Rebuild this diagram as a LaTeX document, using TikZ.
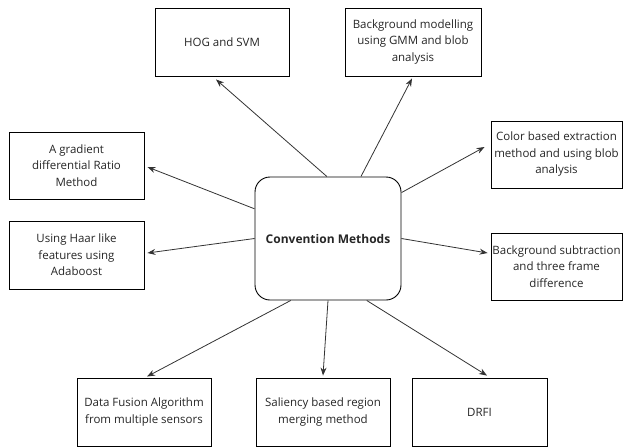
\documentclass[tikz,border=0pt]{standalone}
\usepackage{fontspec}
\setmainfont{Open Sans}
\usetikzlibrary{arrows.meta}
\begin{document}
\begin{tikzpicture}[x=1pt,y=-1pt,
  box/.style={draw=black, line width=0.9pt, align=center, inner sep=0pt,
    text=black!85, font=\fontsize{11.5}{16.5}\selectfont},
  hub/.style={box, rounded corners=15pt, font=\fontsize{12}{15}\selectfont\bfseries},
  arr/.style={-{Stealth[length=8pt,width=6pt]}, line width=0.8pt, draw=black!80}]
\useasboundingbox (0,0) rectangle (623,447);
\node[hub, minimum width=146pt, minimum height=123pt] (c) at (328,238.5) {Convention Methods};
\node[box, minimum width=134pt, minimum height=68pt] (hog) at (222,42) {HOG and SVM};
\node[box, minimum width=136pt, minimum height=68pt] (bgm) at (413,42) {Background modelling\\using GMM and blob\\analysis};
\node[box, minimum width=135pt, minimum height=67pt] (grad) at (76.5,165.5) {A gradient\\differential Ratio\\Method};
\node[box, minimum width=135pt, minimum height=68pt] (haar) at (76.5,255) {Using Haar like\\features using\\Adaboost};
\node[box, minimum width=131pt, minimum height=67pt] (color) at (556.5,154.5) {Color based extraction\\method and using blob\\analysis};
\node[box, minimum width=131pt, minimum height=67pt] (bgs) at (556.5,266.5) {Background subtraction\\and three frame\\difference};
\node[box, minimum width=134pt, minimum height=68pt] (df) at (144,412) {Data Fusion Algorithm\\from multiple sensors};
\node[box, minimum width=134pt, minimum height=68pt] (sal) at (323,412) {Saliency based region\\merging method};
\node[box, minimum width=135pt, minimum height=68pt] (drfi) at (479.5,412) {DRFI};
\draw[arr] (c.91) -- ([xshift=-6pt,yshift=-3pt]hog.south);
\draw[arr] (c.62) -- ([xshift=-1pt,yshift=-2pt]bgm.south);
\draw[arr] (c.32.5) -- ([xshift=-6pt,yshift=7.5pt]color.west);
\draw[arr] (c.158.7) -- ([xshift=3pt,yshift=-1.5pt]grad.east);
\draw[arr] (c.180.4) -- ([xshift=3pt,yshift=2pt]haar.east);
\draw[arr] (c.0) -- ([xshift=-3pt,yshift=13.5pt]bgs.west);
\draw[arr] (c.239.7) -- ([xshift=3pt,yshift=1pt]df.north);
\draw[arr] (c.270) -- ([yshift=2pt]sal.north);
\draw[arr] (c.302.4) -- ([xshift=7.5pt,yshift=2pt]drfi.north);
\end{tikzpicture}
\end{document}
